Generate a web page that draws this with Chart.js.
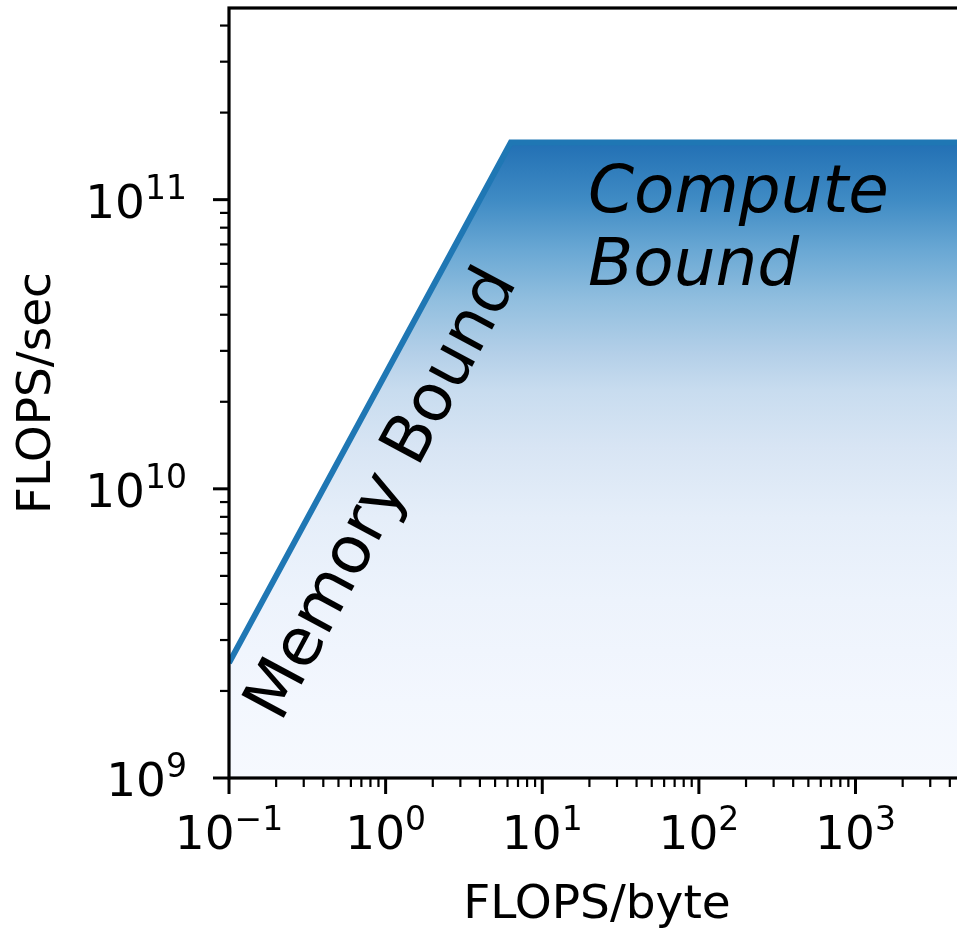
<!DOCTYPE html>
<html>
<head>
<meta charset="utf-8">
<script src="https://cdn.jsdelivr.net/npm/chart.js@4.4.1/dist/chart.umd.min.js"></script>
<style>
    html, body { margin: 0; padding: 0; background: #fff; overflow: hidden; }
    canvas { display: block; }
</style>
</head>
<body>
<canvas id="roofline" width="965" height="928"></canvas>
<script>
// Roofline data
const intensity = [0.1, 6.3, 5000];          // FLOPS/byte
const performance = [2.5e9, 1.575e11, 1.575e11]; // FLOPS/sec
const xRange = [0.1, 5000];
const yRange = [1e9, 4.6e11];
const xTickExps = [-1, 0, 1, 2, 3];
const yTickExps = [9, 10, 11];

const FONT = '"DejaVu Sans", "Liberation Sans", sans-serif';

// gradient stops for the fill under the roof (top -> bottom)
const fillStops = [
    [0.00, '#2270b4'],
    [0.09, '#3f8bc4'],
    [0.17, '#6aa8d4'],
    [0.25, '#92bfdf'],
    [0.33, '#b3cfe8'],
    [0.39, '#c8dcef'],
    [0.48, '#d8e5f4'],
    [0.59, '#e5eef9'],
    [0.72, '#edf3fc'],
    [0.88, '#f3f7fe'],
    [1.00, '#f6f9fe']
];

function roofGradient(context) {
    const chart = context.chart;
    const { ctx, chartArea, scales } = chart;
    if (!chartArea) return 'rgba(0,0,0,0)';
    const top = scales.y.getPixelForValue(Math.max(...performance));
    const g = ctx.createLinearGradient(0, top, 0, chartArea.bottom);
    fillStops.forEach(s => g.addColorStop(s[0], s[1]));
    return g;
}

function drawPower(ctx, exp, x, baseline, align) {
    const base = '10';
    const sup = exp < 0 ? '\u2212' + Math.abs(exp) : String(exp);
    ctx.font = '47px ' + FONT;
    const wb = ctx.measureText(base).width;
    ctx.font = '33px ' + FONT;
    const ws = ctx.measureText(sup).width;
    let left = x;
    if (align === 'center') left = x - (wb + ws) / 2;
    if (align === 'right') left = x - (wb + ws);
    ctx.textAlign = 'left';
    ctx.textBaseline = 'alphabetic';
    ctx.font = '47px ' + FONT;
    ctx.fillText(base, left, baseline);
    ctx.font = '33px ' + FONT;
    ctx.fillText(sup, left + wb, baseline - 19);
}

function tickValues(range) {
    const out = [];
    const e0 = Math.floor(Math.log10(range[0]));
    const e1 = Math.ceil(Math.log10(range[1]));
    for (let e = e0; e <= e1; e++) {
        for (let m = 1; m <= 9; m++) {
            const v = m * Math.pow(10, e);
            if (v >= range[0] * 0.9999 && v <= range[1] * 1.0001) out.push({ v, major: m === 1 });
        }
    }
    return out;
}

// spines, ticks, labels and annotations in matplotlib style
const axesDecor = {
    id: 'axesDecor',
    afterDatasetsDraw(chart) {
        const { ctx, chartArea: a, scales: { x, y } } = chart;
        ctx.save();
        ctx.fillStyle = '#000';
        ctx.strokeStyle = '#000';

        // x ticks
        tickValues(xRange).forEach(t => {
            const px = x.getPixelForValue(t.v);
            ctx.lineWidth = t.major ? 3 : 2.2;
            ctx.beginPath();
            ctx.moveTo(px, a.bottom);
            ctx.lineTo(px, a.bottom + (t.major ? 16 : 9));
            ctx.stroke();
        });
        // y ticks
        tickValues(yRange).forEach(t => {
            const py = y.getPixelForValue(t.v);
            ctx.lineWidth = t.major ? 3 : 2.2;
            ctx.beginPath();
            ctx.moveTo(a.left, py);
            ctx.lineTo(a.left - (t.major ? 16 : 9), py);
            ctx.stroke();
        });

        // spines
        ctx.lineWidth = 3.2;
        ctx.strokeRect(a.left, a.top, a.right - a.left, a.bottom - a.top);

        // tick labels
        xTickExps.forEach(e => drawPower(ctx, e, x.getPixelForValue(Math.pow(10, e)), a.bottom + 71, 'center'));
        yTickExps.forEach(e => drawPower(ctx, e, a.left - 42, y.getPixelForValue(Math.pow(10, e)) + 18, 'right'));

        // axis titles
        ctx.font = '47px ' + FONT;
        ctx.textAlign = 'center';
        ctx.textBaseline = 'alphabetic';
        ctx.fillText('FLOPS/byte', (a.left + a.right) / 2, 918);
        ctx.save();
        ctx.translate(50, (a.top + a.bottom) / 2);
        ctx.rotate(-Math.PI / 2);
        ctx.fillText('FLOPS/sec', 0, 0);
        ctx.restore();

        // region annotations
        ctx.font = 'italic 66px ' + FONT;
        ctx.textAlign = 'left';
        ctx.fillText('Compute', 588, 212);
        ctx.fillText('Bound', 588, 285);

        ctx.save();
        ctx.font = '66px ' + FONT;
        ctx.textAlign = 'center';
        ctx.translate(399, 503);
        ctx.rotate(-61.8 * Math.PI / 180);
        ctx.fillText('Memory Bound', 0, 0);
        ctx.restore();

        ctx.restore();
    }
};

new Chart(document.getElementById('roofline'), {
    type: 'line',
    data: {
        datasets: [{
            data: intensity.map((v, i) => ({ x: v, y: performance[i] })),
            borderColor: '#1f77b4',
            borderWidth: 6,
            backgroundColor: roofGradient,
            fill: 'start',
            pointRadius: 0,
            tension: 0
        }]
    },
    options: {
        responsive: false,
        devicePixelRatio: 1,
        animation: false,
        layout: { padding: { left: 229, top: 8, right: 0, bottom: 150 } },
        plugins: { legend: { display: false }, tooltip: { enabled: false } },
        scales: {
            x: { type: 'logarithmic', min: xRange[0], max: xRange[1], display: false },
            y: { type: 'logarithmic', min: yRange[0], max: yRange[1], display: false }
        }
    },
    plugins: [axesDecor]
});
</script>
</body>
</html>
